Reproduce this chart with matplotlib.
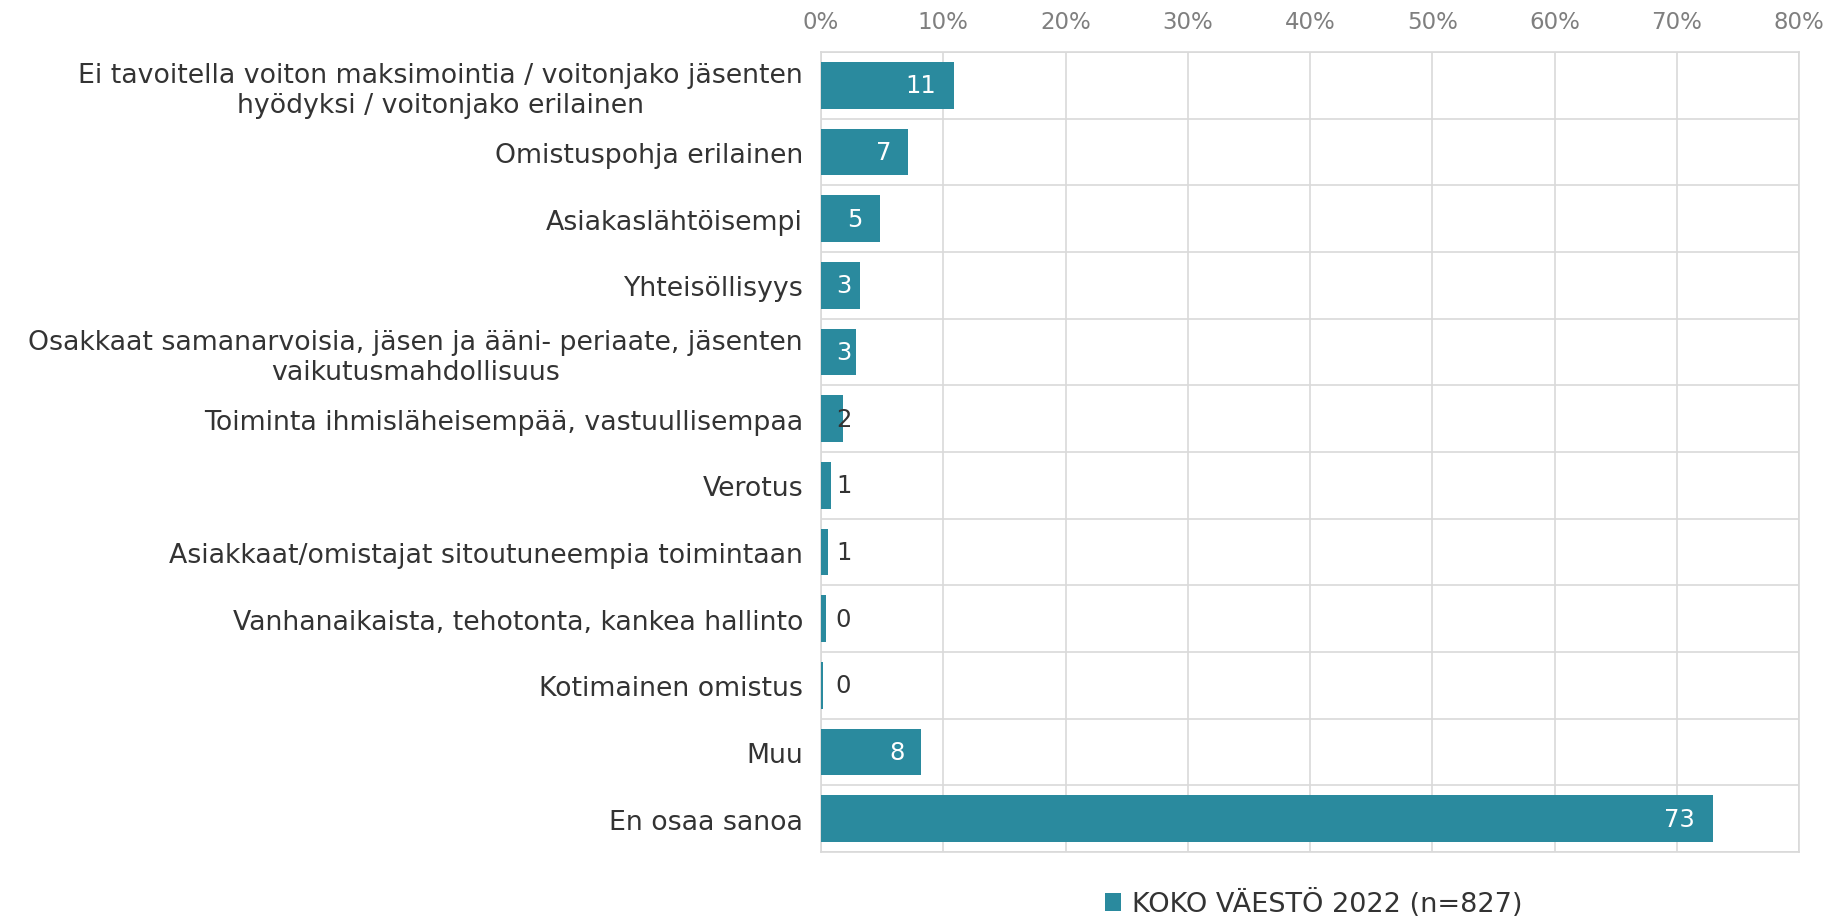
import matplotlib.pyplot as plt
import numpy as np

categories = [
    'Ei tavoitella voiton maksimointia / voitonjako jäsenten\nhyödyksi / voitonjako erilainen',
    'Omistuspohja erilainen',
    'Asiakaslähtöisempi',
    'Yhteisöllisyys',
    'Osakkaat samanarvoisia, jäsen ja ääni- periaate, jäsenten\nvaikutusmahdollisuus',
    'Toiminta ihmisläheisempää, vastuullisempaa',
    'Verotus',
    'Asiakkaat/omistajat sitoutuneempia toimintaan',
    'Vanhanaikaista, tehotonta, kankea hallinto',
    'Kotimainen omistus',
    'Muu',
    'En osaa sanoa',
]
values = [10.9, 7.1, 4.8, 3.2, 2.9, 1.8, 0.8, 0.6, 0.4, 0.2, 8.2, 73.0]
series_name = 'KOKO VÄESTÖ 2022 (n=827)'
xticks = [0, 10, 20, 30, 40, 50, 60, 70, 80]

bar_color = '#2a8a9e'
grid_color = '#d9d9d9'
text_color = '#333333'

fig = plt.figure(figsize=(18.34, 9.2), dpi=100)
ax = fig.add_axes([821 / 1834, 1 - 853 / 920, (1799 - 821) / 1834, (853 - 53) / 920])

y = np.arange(len(categories))
bars = ax.barh(y, values, height=0.7, color=bar_color, label=series_name, zorder=3)

ax.set_xlim(0, 80)
ax.set_ylim(len(categories) - 0.5, -0.5)
ax.set_xticks(xticks)
ax.set_xticklabels([f'{t}%' for t in xticks])
ax.xaxis.tick_top()
ax.tick_params(axis='x', length=0, pad=14, labelsize=16.5, labelcolor='#7f7f7f')

ax.set_yticks(y)
ax.set_yticklabels(categories, fontsize=19.3, color=text_color, ha='right', multialignment='center')
ax.tick_params(axis='y', which='major', length=0, pad=13)

# row separators like the Excel chart
ax.set_yticks(np.arange(-0.5, len(categories), 1), minor=True)
ax.tick_params(axis='y', which='minor', length=0)
ax.grid(axis='y', which='minor', color=grid_color, lw=1.2, zorder=0)
ax.grid(axis='x', which='major', color=grid_color, lw=1.2, zorder=0)

for s in ax.spines.values():
    s.set_color(grid_color)
    s.set_linewidth(1.2)

# labels sit inside the bar end, but never left of a minimum position
for v, yy in zip(values, y):
    lab = f'{round(v):d}'
    back = 2.0 if len(lab) == 1 else 2.75
    xpos = max(v - back, 1.85)
    col = 'white' if v >= 2.5 else text_color
    ax.text(xpos, yy, lab, ha='center', va='center', fontsize=17.5, color=col, zorder=4)

leg = fig.legend(handles=[bars], labels=[series_name], loc='center', bbox_to_anchor=(1314 / 1834, 1 - 904 / 920),
                 frameon=False, fontsize=19.5, handlelength=0.6, handleheight=0.6, handletextpad=0.4)
for t in leg.get_texts():
    t.set_color(text_color)

fig.savefig('out.png', dpi=100)
